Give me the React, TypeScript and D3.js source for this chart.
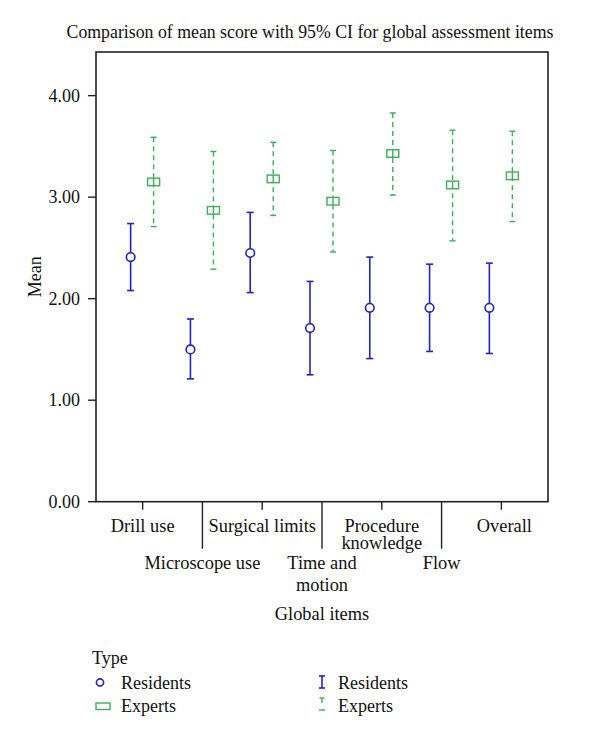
import React from "react";
import * as d3 from "d3";

const categories = ["Drill use", "Microscope use", "Surgical limits", "Time and motion", "Procedure knowledge", "Flow", "Overall"];
const categoryLines = [["Drill use"], ["Microscope use"], ["Surgical limits"], ["Time and", "motion"], ["Procedure", "knowledge"], ["Flow"], ["Overall"]];
const residentsMean = [2.41, 1.50, 2.45, 1.71, 1.91, 1.91, 1.91];
const residentsLow = [2.08, 1.21, 2.06, 1.25, 1.41, 1.48, 1.46];
const residentsHigh = [2.74, 1.80, 2.85, 2.17, 2.41, 2.34, 2.35];
const expertsMean = [3.15, 2.87, 3.18, 2.96, 3.43, 3.12, 3.21];
const expertsLow = [2.71, 2.29, 2.82, 2.46, 3.02, 2.57, 2.76];
const expertsHigh = [3.59, 3.45, 3.54, 3.46, 3.83, 3.66, 3.65];
const yTicks = [0, 1, 2, 3, 4];

const BLUE = "#2323c2";
const GREEN = "#3dae5c";
const FONT = "'Liberation Serif', 'Times New Roman', serif";

export default function App() {
  const W = 600, H = 738;
  const left = 96, right = 548, top = 52, bottom = 501.7;
  const x = d3.scalePoint<string>().domain(categories).range([left, right]).padding(0.78);
  const y = d3.scaleLinear().domain([0, 4.43]).range([bottom, top]);
  const rOff = -12, eOff = 11;

  return (
    <svg width={W} height={H} style={{ position: "absolute", left: 0, top: 0, background: "#fff" }} fontFamily={FONT}>
      <rect x={0} y={0} width={W} height={H} fill="#fff" />
      <text x={310} y={38} textAnchor="middle" fontSize={17.8} fill="#111">
        Comparison of mean score with 95% CI for global assessment items
      </text>
      {/* frame */}
      <rect x={left} y={top} width={right - left} height={bottom - top} fill="none" stroke="#222" strokeWidth={1.6} />
      {/* y axis ticks */}
      {yTicks.map((t) => (
        <g key={t}>
          <line x1={left - 8} x2={left} y1={y(t)} y2={y(t)} stroke="#222" strokeWidth={1.4} />
          <text x={80} y={y(t)} dy="0.35em" textAnchor="end" fontSize={18} fill="#111">
            {d3.format(".2f")(t)}
          </text>
        </g>
      ))}
      <text transform={`translate(41,${(top + bottom) / 2}) rotate(-90)`} textAnchor="middle" fontSize={18} fill="#111">
        Mean
      </text>
      {/* x axis ticks & labels */}
      {categories.map((c, i) => {
        const cx = x(c) as number;
        const odd = i % 2 === 1;
        const tickLen = odd ? 47 : 8;
        const baseY = odd ? 569 : 531.5;
        const lineGap = odd ? 22 : 17;
        return (
          <g key={c}>
            <line x1={cx} x2={cx} y1={bottom} y2={bottom + tickLen} stroke="#222" strokeWidth={1.4} />
            <text textAnchor="middle" fontSize={18.4} fill="#111">
              {categoryLines[i].map((ln, j) => (
                <tspan key={j} x={cx + (c === "Overall" ? 3 : 0)} y={baseY + j * lineGap}>
                  {ln}
                </tspan>
              ))}
            </text>
          </g>
        );
      })}
      <text x={(left + right) / 2} y={620} textAnchor="middle" fontSize={18.4} fill="#111">
        Global items
      </text>
      {/* residents error bars */}
      {categories.map((c, i) => {
        const cx = (x(c) as number) + rOff;
        return (
          <g key={"r" + c} stroke={BLUE} strokeWidth={1.6} fill="none">
            <line x1={cx} x2={cx} y1={y(residentsLow[i])} y2={y(residentsHigh[i])} />
            <line x1={cx - 3.5} x2={cx + 3.5} y1={y(residentsLow[i])} y2={y(residentsLow[i])} />
            <line x1={cx - 3.5} x2={cx + 3.5} y1={y(residentsHigh[i])} y2={y(residentsHigh[i])} />
            <circle cx={cx} cy={y(residentsMean[i])} r={4.3} fill="#fff" />
          </g>
        );
      })}
      {/* experts error bars */}
      {categories.map((c, i) => {
        const cx = (x(c) as number) + eOff;
        return (
          <g key={"e" + c} stroke={GREEN} strokeWidth={1.4} fill="none">
            <line x1={cx} x2={cx} y1={y(expertsHigh[i])} y2={y(expertsLow[i])} strokeDasharray="5,4" />
            <line x1={cx - 3} x2={cx + 3} y1={y(expertsLow[i])} y2={y(expertsLow[i])} />
            <line x1={cx - 3} x2={cx + 3} y1={y(expertsHigh[i])} y2={y(expertsHigh[i])} />
            <rect x={cx - 6} y={y(expertsMean[i]) - 3.8} width={12} height={7.6} fill="#fff" />
            <line x1={cx} x2={cx} y1={y(expertsMean[i]) - 3.8} y2={y(expertsMean[i]) + 3.8} />
          </g>
        );
      })}
      {/* legend */}
      <text x={92} y={664} fontSize={18} fill="#111">Type</text>
      <circle cx={100} cy={682.5} r={3.6} fill="none" stroke={BLUE} strokeWidth={1.6} />
      <text x={121} y={688.5} fontSize={18} fill="#111">Residents</text>
      <rect x={96} y={703} width={14} height={6.5} fill="none" stroke={GREEN} strokeWidth={1.4} />
      <text x={121} y={712} fontSize={18} fill="#111">Experts</text>
      <g stroke={BLUE} strokeWidth={1.6}>
        <line x1={322} x2={322} y1={676} y2={688} />
        <line x1={319} x2={325} y1={676} y2={676} />
        <line x1={319} x2={325} y1={688} y2={688} />
      </g>
      <text x={338} y={688.5} fontSize={18} fill="#111">Residents</text>
      <g stroke={GREEN} strokeWidth={1.4}>
        <line x1={322} x2={322} y1={698} y2={703} />
        <line x1={319.5} x2={324.5} y1={698} y2={698} />
        <line x1={319} x2={325} y1={710} y2={710} />
      </g>
      <text x={338} y={712} fontSize={18} fill="#111">Experts</text>
    </svg>
  );
}
